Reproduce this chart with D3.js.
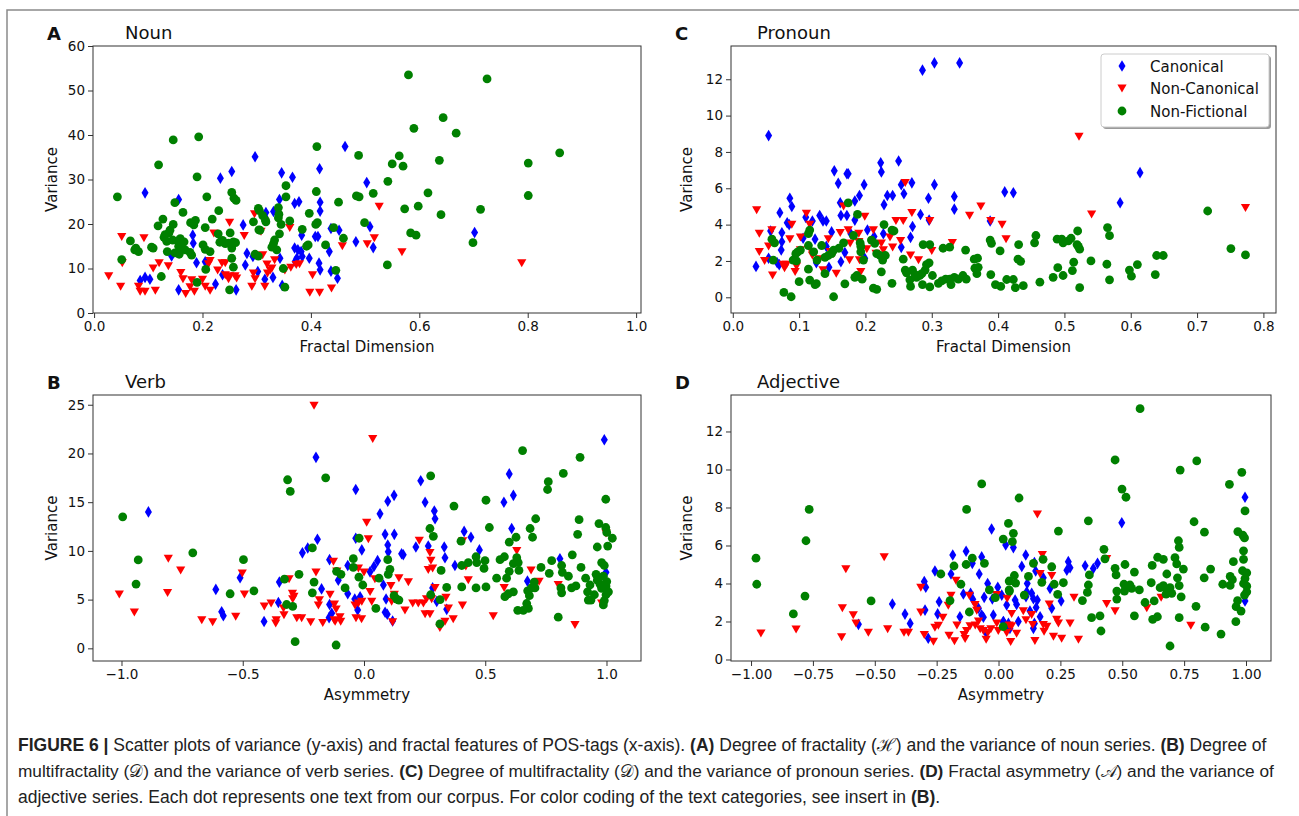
<!DOCTYPE html>
<html><head><meta charset="utf-8">
<script src="https://cdn.jsdelivr.net/npm/d3@7"></script>
<style>body{margin:0;background:#fff}</style>
</head><body><svg id="c" width="1299" height="816"></svg>
<script>
// ---------- DATA ----------
const categories = ["Canonical", "Non-Canonical", "Non-Fictional"];
const panelTitles = ["Noun", "Verb", "Pronoun", "Adjective"];
const panelLetters = ["A", "B", "C", "D"];
const xLabels = ["Fractal Dimension", "Asymmetry", "Fractal Dimension", "Asymmetry"];
const yLabel = "Variance";
const ticksXA = [0, 0.2, 0.4, 0.6, 0.8, 1.0];
const ticksYA = [0, 10, 20, 30, 40, 50, 60];
const ticksXB = [-1, -0.5, 0, 0.5, 1];
const ticksYB = [0, 5, 10, 15, 20, 25];
const ticksXC = [0, 0.1, 0.2, 0.3, 0.4, 0.5, 0.6, 0.7, 0.8];
const ticksYC = [0, 2, 4, 6, 8, 10, 12];
const ticksXD = [-1, -0.75, -0.5, -0.25, 0, 0.25, 0.5, 0.75, 1];
const ticksYD = [0, 2, 4, 6, 8, 10, 12];

const nounCanonical = [[0.094,27.0],[0.156,25.5],[0.233,30.3],[0.254,31.8],[0.297,35.1],[0.346,31.5],[0.366,30.5],[0.416,32.4],[0.463,37.4],[0.503,29.3],[0.275,19.8],[0.317,22.6],[0.331,22.8],[0.342,25.5],[0.370,24.6],[0.378,25.0],[0.417,24.9],[0.417,22.9],[0.408,17.2],[0.413,17.2],[0.383,17.5],[0.370,14.6],[0.376,14.2],[0.382,13.8],[0.374,12.3],[0.384,12.7],[0.371,11.6],[0.397,12.3],[0.415,11.2],[0.417,9.7],[0.434,13.8],[0.437,19.0],[0.452,18.6],[0.483,16.0],[0.509,19.4],[0.437,9.4],[0.449,7.8],[0.182,17.5],[0.183,15.7],[0.189,11.3],[0.143,12.8],[0.205,11.5],[0.085,7.3],[0.094,8.0],[0.103,7.6],[0.156,5.2],[0.224,6.5],[0.237,8.6],[0.262,5.2],[0.279,10.8],[0.282,13.4],[0.293,12.7],[0.302,9.3],[0.315,7.6],[0.330,8.0],[0.343,12.3],[0.347,6.2],[0.315,21.7],[0.515,14.7],[0.702,18.1]];
const nounNonCanonical = [[0.027,8.3],[0.049,5.9],[0.051,17.1],[0.052,11.2],[0.082,5.9],[0.085,4.8],[0.094,4.8],[0.113,5.0],[0.092,16.8],[0.109,10.0],[0.120,11.2],[0.137,10.5],[0.160,9.0],[0.164,7.6],[0.180,7.4],[0.177,5.8],[0.169,4.3],[0.185,4.8],[0.200,7.5],[0.205,5.9],[0.214,5.0],[0.221,17.9],[0.214,11.7],[0.211,11.0],[0.228,9.6],[0.236,11.2],[0.242,11.2],[0.242,8.5],[0.248,7.6],[0.250,8.3],[0.260,8.3],[0.263,7.8],[0.250,20.3],[0.277,17.3],[0.291,5.9],[0.297,7.6],[0.294,8.9],[0.296,22.2],[0.308,18.3],[0.311,13.0],[0.315,5.9],[0.320,8.9],[0.328,10.0],[0.325,9.6],[0.319,10.9],[0.333,11.9],[0.352,9.6],[0.363,10.2],[0.373,10.8],[0.379,11.0],[0.361,19.1],[0.398,4.6],[0.416,4.6],[0.403,8.5],[0.438,5.5],[0.458,15.0],[0.526,23.9],[0.517,16.8],[0.504,15.5],[0.568,13.7],[0.789,11.2]];
const nounNonFictional = [[0.043,26.1],[0.146,38.9],[0.193,39.6],[0.119,33.3],[0.190,30.6],[0.411,37.4],[0.488,35.4],[0.410,27.3],[0.451,24.9],[0.484,26.3],[0.489,26.1],[0.499,20.3],[0.149,24.8],[0.208,26.1],[0.254,27.1],[0.258,25.8],[0.262,25.3],[0.230,23.0],[0.164,22.6],[0.127,21.1],[0.118,19.6],[0.146,19.9],[0.140,18.6],[0.138,18.0],[0.178,20.3],[0.184,19.8],[0.187,20.8],[0.205,19.2],[0.218,21.1],[0.067,16.2],[0.077,14.6],[0.082,13.8],[0.075,14.2],[0.106,14.8],[0.109,14.6],[0.129,17.0],[0.134,16.1],[0.131,17.6],[0.145,16.4],[0.154,16.2],[0.159,16.7],[0.166,16.0],[0.156,15.0],[0.135,13.8],[0.149,13.5],[0.157,13.2],[0.168,14.2],[0.177,13.6],[0.180,13.0],[0.201,15.3],[0.205,14.3],[0.214,13.8],[0.229,17.8],[0.232,15.9],[0.237,16.3],[0.242,15.6],[0.248,15.7],[0.251,18.0],[0.257,16.0],[0.261,15.8],[0.254,14.6],[0.254,12.3],[0.206,9.8],[0.257,10.3],[0.051,12.0],[0.124,8.2],[0.190,6.9],[0.250,5.2],[0.294,20.5],[0.303,23.5],[0.305,23.0],[0.311,21.9],[0.317,20.5],[0.316,20.9],[0.306,18.6],[0.304,18.7],[0.340,23.7],[0.341,22.2],[0.340,21.4],[0.345,19.9],[0.342,17.8],[0.333,16.4],[0.331,15.6],[0.328,14.8],[0.337,14.2],[0.354,28.6],[0.354,26.1],[0.361,20.7],[0.349,10.0],[0.352,5.8],[0.384,18.8],[0.397,22.4],[0.409,19.9],[0.412,20.3],[0.392,15.0],[0.395,15.3],[0.427,15.3],[0.442,19.2],[0.460,16.8],[0.446,9.6],[0.297,13.2],[0.303,12.8],[0.580,53.5],[0.725,52.6],[0.644,43.9],[0.590,41.5],[0.668,40.4],[0.563,35.3],[0.550,33.5],[0.570,33.0],[0.637,34.3],[0.859,36.0],[0.801,33.7],[0.801,26.4],[0.542,29.6],[0.515,26.9],[0.616,27.0],[0.573,23.4],[0.598,24.0],[0.640,22.1],[0.713,23.3],[0.584,18.0],[0.594,17.5],[0.699,15.8],[0.541,10.8]];

const verbCanonical = [[-0.889,14.0],[-0.611,6.05],[-0.587,3.76],[-0.580,3.35],[-0.511,7.25],[-0.412,2.75],[-0.353,4.7],[-0.349,6.8],[-0.198,19.6],[-0.192,11.2],[-0.254,9.8],[-0.232,10.3],[-0.142,9.1],[-0.175,6.1],[-0.142,4.5],[-0.133,3.6],[-0.144,3.15],[-0.106,7.0],[-0.067,8.5],[-0.034,16.3],[-0.034,11.3],[-0.009,10.1],[-0.067,5.6],[-0.038,5.06],[-0.026,3.94],[-0.016,5.3],[0.234,17.2],[0.599,17.9],[0.616,15.7],[0.577,15.0],[0.991,21.4],[0.252,15.0],[0.290,14.1],[0.293,13.3],[0.124,15.7],[0.098,15.1],[0.066,13.8],[0.087,11.7],[0.125,11.7],[0.098,10.6],[0.100,9.9],[0.155,9.7],[0.162,9.6],[0.214,10.4],[0.265,10.5],[0.331,10.4],[0.334,9.3],[0.413,12.0],[0.441,11.4],[0.476,10.1],[0.609,12.3],[0.375,8.5],[0.056,9.0],[0.041,8.4],[0.025,7.85],[0.080,6.5],[0.091,5.06],[0.087,3.7],[0.096,3.5],[0.118,2.8],[0.283,6.2],[0.300,4.8],[0.341,4.0],[0.808,9.2],[0.674,6.9],[0.998,7.8]];
const verbNonCanonical = [[-1.009,5.54],[-0.947,3.7],[-0.807,9.2],[-0.756,8.0],[-0.810,5.7],[-0.669,2.9],[-0.624,2.7],[-0.529,3.24],[-0.502,7.7],[-0.493,5.54],[-0.411,4.3],[-0.383,4.6],[-0.364,2.55],[-0.362,2.9],[-0.332,4.1],[-0.330,3.4],[-0.309,7.1],[-0.295,5.6],[-0.289,5.3],[-0.294,5.06],[-0.277,3.1],[-0.257,3.1],[-0.220,2.7],[-0.170,2.6],[-0.206,24.9],[-0.198,7.8],[-0.184,4.95],[-0.188,4.4],[-0.140,5.5],[-0.126,8.9],[-0.122,4.5],[-0.115,4.0],[-0.123,2.9],[-0.119,2.75],[-0.112,7.9],[-0.099,3.2],[-0.096,2.75],[-0.037,4.4],[-0.023,4.6],[-0.009,4.8],[-0.033,3.1],[-0.010,3.0],[-0.023,8.2],[0.036,21.5],[0.011,12.9],[0.018,11.2],[0.000,7.8],[0.045,7.1],[0.025,5.8],[0.032,4.8],[0.111,6.4],[0.125,5.5],[0.114,4.8],[0.118,2.7],[0.144,7.2],[0.183,6.8],[0.169,3.9],[0.201,4.6],[0.224,4.6],[0.245,4.6],[0.228,11.05],[0.252,3.5],[0.272,3.5],[0.272,9.8],[0.276,9.0],[0.265,8.05],[0.283,8.2],[0.293,6.2],[0.258,5.06],[0.279,5.06],[0.338,5.2],[0.348,4.1],[0.334,2.75],[0.313,2.1],[0.368,3.0],[0.406,4.4],[0.430,7.0],[0.407,11.0],[0.420,8.4],[0.533,3.3],[0.578,6.2],[0.630,10.0],[0.689,8.0],[0.722,6.85],[0.801,6.5],[0.870,2.4],[0.980,4.6],[0.998,11.8]];
const verbNonFictional = [[-0.995,13.5],[-0.931,9.07],[-0.940,6.6],[-0.706,9.8],[-0.497,9.1],[-0.552,5.6],[-0.454,5.9],[-0.315,17.3],[-0.304,16.1],[-0.158,17.5],[-0.284,0.68],[-0.115,0.34],[-0.328,7.1],[-0.268,7.6],[-0.319,4.5],[-0.294,4.3],[-0.213,10.3],[-0.206,6.8],[-0.213,5.7],[-0.113,7.9],[-0.095,7.6],[-0.078,6.2],[-0.044,9.2],[-0.044,8.3],[-0.020,11.3],[-0.021,7.3],[-0.005,6.5],[0.275,17.7],[0.371,14.6],[0.654,20.3],[0.891,19.6],[0.822,17.95],[0.760,17.1],[0.757,16.3],[0.503,15.2],[0.997,15.3],[0.517,12.4],[0.708,13.3],[0.685,12.3],[0.695,11.4],[0.887,13.2],[0.881,11.7],[0.969,12.8],[0.997,12.4],[1.001,11.9],[1.024,11.3],[1.005,10.5],[0.272,12.3],[0.286,11.5],[0.400,11.0],[0.599,10.9],[0.627,11.4],[0.962,10.4],[0.098,9.1],[0.107,8.1],[0.100,7.6],[0.062,7.2],[0.124,5.4],[0.135,5.06],[0.144,4.95],[0.049,4.1],[0.275,5.5],[0.318,8.0],[0.314,5.0],[0.341,6.25],[0.313,2.5],[0.403,8.5],[0.430,8.8],[0.403,6.3],[0.462,9.4],[0.465,8.8],[0.499,9.0],[0.462,6.2],[0.495,8.2],[0.503,6.3],[0.547,7.2],[0.561,9.1],[0.579,9.4],[0.588,7.2],[0.599,7.9],[0.581,5.3],[0.595,5.6],[0.616,5.8],[0.630,9.3],[0.636,8.8],[0.616,8.7],[0.639,8.0],[0.634,3.9],[0.657,3.9],[0.671,4.6],[0.682,5.4],[0.678,4.1],[0.691,6.2],[0.702,6.8],[0.705,6.2],[0.675,5.9],[0.730,8.3],[0.764,7.7],[0.774,9.0],[0.815,8.5],[0.818,7.8],[0.843,7.4],[0.859,9.6],[0.895,8.3],[0.856,6.2],[0.874,6.4],[0.812,6.2],[0.815,5.7],[0.801,3.2],[0.914,7.2],[0.932,6.5],[0.922,5.8],[0.950,5.5],[0.973,6.6],[0.980,6.15],[0.991,4.9],[0.936,4.95],[0.925,4.95],[0.980,8.8],[0.991,8.5],[0.987,7.4],[1.001,6.85],[0.998,6.4],[1.008,5.8],[0.998,5.5],[0.987,4.45],[0.957,7.6],[0.962,7.0]];

const pronounCanonical = [[0.286,12.5],[0.304,12.9],[0.342,12.9],[0.054,8.9],[0.153,6.96],[0.172,6.8],[0.174,6.8],[0.159,6.27],[0.223,7.4],[0.224,6.9],[0.250,7.5],[0.198,6.2],[0.254,6.2],[0.270,6.3],[0.304,6.2],[0.233,5.6],[0.241,5.6],[0.228,5.1],[0.258,5.7],[0.191,5.6],[0.184,5.3],[0.162,5.2],[0.163,4.5],[0.172,4.5],[0.184,4.25],[0.086,5.45],[0.089,5.0],[0.071,4.66],[0.082,4.1],[0.085,4.0],[0.110,4.4],[0.120,4.2],[0.131,4.5],[0.136,4.2],[0.141,4.2],[0.057,3.65],[0.074,3.55],[0.074,3.06],[0.073,2.6],[0.106,3.25],[0.124,3.2],[0.149,3.6],[0.141,2.8],[0.054,2.15],[0.067,1.9],[0.035,1.7],[0.070,1.8],[0.126,1.9],[0.145,1.65],[0.163,1.96],[0.169,2.46],[0.199,2.15],[0.203,3.7],[0.178,3.5],[0.227,3.5],[0.213,3.35],[0.268,3.3],[0.271,3.9],[0.283,4.56],[0.295,5.45],[0.296,4.25],[0.334,5.55],[0.334,4.85],[0.254,2.75],[0.388,4.2],[0.410,5.8],[0.423,5.75],[0.584,5.2],[0.614,6.86]];
const pronounNonCanonical = [[0.036,4.8],[0.040,3.5],[0.040,2.5],[0.048,2.0],[0.060,1.2],[0.054,2.8],[0.059,3.7],[0.076,1.8],[0.081,1.8],[0.078,1.6],[0.094,1.4],[0.096,1.7],[0.089,4.0],[0.086,3.2],[0.102,3.3],[0.102,2.6],[0.111,4.6],[0.116,4.0],[0.119,2.5],[0.120,2.3],[0.131,2.1],[0.136,1.5],[0.144,3.2],[0.156,1.3],[0.152,2.4],[0.147,2.5],[0.162,3.55],[0.167,5.0],[0.174,3.7],[0.177,2.96],[0.176,2.05],[0.190,3.5],[0.190,3.05],[0.191,2.05],[0.199,4.44],[0.202,2.65],[0.193,1.4],[0.212,3.7],[0.216,2.4],[0.224,2.97],[0.227,2.6],[0.237,3.3],[0.241,2.75],[0.246,4.2],[0.257,4.2],[0.260,6.3],[0.253,3.1],[0.270,4.65],[0.268,2.3],[0.280,2.05],[0.297,4.2],[0.300,2.56],[0.331,3.0],[0.357,4.5],[0.374,5.0],[0.389,4.2],[0.406,4.0],[0.412,3.2],[0.522,8.84],[0.541,4.56],[0.773,4.92]];
const pronounNonFictional = [[0.174,5.2],[0.188,4.56],[0.228,4.0],[0.240,3.7],[0.243,3.65],[0.116,3.7],[0.114,3.5],[0.059,3.2],[0.063,3.0],[0.061,2.05],[0.098,2.5],[0.102,2.6],[0.095,2.4],[0.091,2.05],[0.096,2.0],[0.114,2.85],[0.122,2.5],[0.134,2.85],[0.127,2.05],[0.139,2.2],[0.144,2.3],[0.149,2.4],[0.152,2.6],[0.160,2.7],[0.167,3.0],[0.139,1.3],[0.114,1.55],[0.116,0.94],[0.124,0.7],[0.126,0.75],[0.100,0.86],[0.077,0.27],[0.088,0.03],[0.152,0.03],[0.169,0.74],[0.182,3.4],[0.192,3.0],[0.193,2.8],[0.193,2.5],[0.184,1.1],[0.187,1.2],[0.195,1.0],[0.197,2.05],[0.209,3.15],[0.214,2.97],[0.217,2.4],[0.222,2.3],[0.226,2.05],[0.230,2.3],[0.224,1.4],[0.212,0.5],[0.217,0.44],[0.240,0.77],[0.257,2.1],[0.260,1.5],[0.262,1.35],[0.271,1.5],[0.275,1.25],[0.277,1.1],[0.282,1.2],[0.285,1.3],[0.290,1.5],[0.292,1.8],[0.296,1.9],[0.287,2.9],[0.297,2.9],[0.267,0.96],[0.268,0.6],[0.286,0.7],[0.297,0.57],[0.301,1.2],[0.310,0.77],[0.315,0.9],[0.321,1.0],[0.327,1.0],[0.329,0.7],[0.334,1.1],[0.340,1.0],[0.317,2.7],[0.327,2.76],[0.351,2.6],[0.347,1.2],[0.352,1.0],[0.364,2.1],[0.369,2.15],[0.365,1.6],[0.370,1.65],[0.368,1.3],[0.389,1.25],[0.388,3.15],[0.390,2.97],[0.403,2.55],[0.396,0.7],[0.404,0.6],[0.413,0.98],[0.716,4.75],[0.751,2.68],[0.773,2.33],[0.639,2.3],[0.649,2.3],[0.637,1.25],[0.610,1.8],[0.598,1.5],[0.601,1.16],[0.565,3.84],[0.568,3.39],[0.564,1.82],[0.568,0.96],[0.540,2.0],[0.520,3.65],[0.519,2.9],[0.523,2.65],[0.521,2.8],[0.510,3.25],[0.506,3.1],[0.498,3.0],[0.489,3.2],[0.496,3.2],[0.514,1.93],[0.512,1.47],[0.490,1.63],[0.498,1.2],[0.523,0.53],[0.483,1.1],[0.457,3.4],[0.455,3.0],[0.431,2.9],[0.430,2.1],[0.434,1.98],[0.463,0.83],[0.438,0.64],[0.426,0.53],[0.423,0.98]];

const adjCanonical = [[-0.028,6.87],[-0.131,5.7],[-0.068,5.4],[-0.185,5.5],[-0.106,5.06],[-0.078,4.5],[-0.257,4.66],[-0.192,4.5],[-0.300,4.1],[-0.294,3.8],[-0.044,4.0],[-0.003,3.8],[-0.058,3.27],[-0.025,3.18],[-0.142,3.45],[-0.113,3.48],[-0.104,3.17],[-0.081,2.7],[-0.068,2.34],[-0.061,2.22],[-0.240,3.04],[-0.297,2.6],[-0.357,1.9],[-0.378,2.39],[-0.429,2.92],[-0.566,1.85],[-0.246,2.4],[-0.156,2.25],[-0.021,2.34],[-0.284,1.12],[-0.051,1.43],[0.019,1.99],[0.996,8.54],[0.498,7.2],[0.996,3.08],[0.029,6.03],[0.060,5.89],[0.110,5.5],[0.094,4.9],[0.145,5.1],[0.150,4.66],[0.181,4.3],[0.208,3.74],[0.282,5.15],[0.289,4.83],[0.276,4.7],[0.350,4.93],[0.383,4.79],[0.400,5.06],[0.253,3.08],[0.215,2.7],[0.116,4.0],[0.134,3.48],[0.114,3.56],[0.141,3.2],[0.157,3.13],[0.152,2.74],[0.168,2.25],[0.013,3.39],[0.033,2.87],[0.067,3.13],[0.073,2.9],[0.111,3.3],[0.127,2.55],[0.020,2.0],[0.040,1.9],[0.046,1.64],[0.080,2.0],[0.141,1.64],[0.145,1.9]];
const adjNonCanonical = [[-0.960,1.38],[-0.818,1.59],[-0.634,1.17],[-0.617,4.76],[-0.462,5.38],[-0.631,2.7],[-0.587,2.34],[-0.576,1.9],[-0.526,1.41],[-0.448,1.6],[-0.382,1.41],[-0.364,1.41],[-0.314,3.78],[-0.314,2.48],[-0.300,1.29],[-0.263,0.94],[-0.257,1.67],[-0.243,1.78],[-0.225,2.2],[-0.203,2.83],[-0.192,3.36],[-0.172,4.15],[-0.200,1.25],[-0.178,0.97],[-0.135,1.08],[-0.139,1.29],[-0.129,1.5],[-0.168,1.8],[-0.115,1.76],[-0.094,1.8],[-0.074,1.6],[-0.081,2.0],[-0.061,1.5],[-0.043,1.4],[-0.050,1.05],[-0.031,1.6],[-0.007,1.9],[-0.001,1.5],[0.033,1.4],[0.043,1.8],[-0.118,3.36],[-0.095,2.87],[-0.088,2.57],[-0.008,3.4],[0.035,3.2],[0.157,7.64],[0.177,5.5],[0.168,4.5],[0.215,4.4],[0.437,5.3],[0.305,3.26],[0.437,2.92],[0.471,2.55],[0.599,2.7],[0.657,3.26],[0.777,1.78],[0.053,2.4],[0.053,1.75],[0.073,1.36],[0.049,0.92],[0.100,2.55],[0.111,2.07],[0.134,2.35],[0.138,1.82],[0.147,0.98],[0.181,1.82],[0.184,1.47],[0.195,1.73],[0.205,2.9],[0.222,1.2],[0.235,2.1],[0.242,1.9],[0.255,1.1],[0.289,1.9],[0.323,1.05]];
const adjNonFictional = [[-0.980,5.33],[-0.977,3.96],[-0.765,7.9],[-0.778,6.25],[-0.782,3.34],[-0.829,2.4],[-0.515,3.08],[-0.068,9.24],[-0.129,7.9],[-0.233,4.5],[-0.180,4.92],[-0.152,3.96],[-0.196,3.1],[-0.106,5.33],[-0.131,5.0],[-0.057,5.06],[-0.037,3.66],[-0.013,3.26],[-0.118,2.5],[0.019,1.73],[0.040,7.16],[0.019,6.34],[0.043,4.13],[0.043,3.66],[0.572,13.2],[0.471,10.5],[0.801,10.45],[0.734,9.97],[0.983,9.85],[0.933,9.22],[0.499,8.97],[0.515,8.54],[0.083,8.5],[0.996,7.82],[0.363,7.3],[0.790,7.25],[0.832,6.7],[0.967,6.73],[0.987,6.55],[0.994,6.4],[0.242,6.76],[0.060,6.64],[0.056,6.2],[0.727,6.25],[0.730,5.9],[0.426,5.8],[0.430,5.3],[0.990,5.72],[0.990,5.27],[0.643,5.38],[0.666,5.27],[0.713,5.36],[0.720,5.03],[0.747,4.76],[0.857,4.76],[0.949,5.15],[0.471,4.8],[0.475,4.45],[0.511,5.0],[0.549,4.6],[0.621,4.95],[0.680,4.5],[0.723,4.3],[0.831,4.3],[0.906,3.96],[0.936,4.37],[0.945,4.2],[0.936,3.9],[0.986,4.67],[1.003,4.56],[0.996,4.26],[0.990,4.0],[1.003,3.86],[1.003,3.56],[0.994,3.39],[0.367,4.45],[0.363,3.92],[0.359,3.53],[0.507,3.96],[0.515,3.78],[0.531,3.92],[0.538,3.74],[0.509,3.6],[0.569,3.66],[0.617,4.04],[0.653,3.78],[0.666,3.89],[0.680,3.69],[0.693,3.78],[0.700,3.48],[0.677,3.44],[0.730,3.89],[0.738,3.3],[0.478,3.6],[0.478,3.18],[0.592,3.0],[0.629,3.08],[0.798,2.8],[0.966,3.1],[0.960,2.78],[0.980,2.55],[0.549,2.3],[0.623,2.11],[0.642,2.25],[0.730,2.2],[0.410,2.3],[0.376,2.2],[0.414,1.5],[0.835,1.7],[0.899,1.34],[0.959,1.99],[0.693,0.71],[0.339,3.1],[0.262,4.04],[0.239,3.43],[0.225,3.96],[0.215,4.88],[0.180,5.27],[0.175,4.06],[0.141,5.06],[0.121,4.37],[0.064,4.42],[0.069,4.02],[0.044,3.6],[0.104,3.39]];

// ---------- DRAWING ----------
const svg = d3.select("#c");
const FONT = "'DejaVu Sans', sans-serif";
const colors = ["#0000ff", "#ff0000", "#008000"];
const shapeDiamond = "M0,-5.8L3.5,0L0,5.8L-3.5,0Z";
const shapeTri = "M-4.6,-3.9L4.6,-3.9L0,4.1Z";
const shapeCircle = d3.symbol(d3.symbolCircle, Math.PI * 4.4 * 4.4)();
const shapes = [shapeDiamond, shapeTri, shapeCircle];

// figure frame
svg.append("path").attr("d", "M7,816V10H1299").attr("fill", "none")
  .attr("stroke", "#8a8a8a").attr("stroke-width", 1.5);

const minusFmt = f => (v => d3.format(f)(v));

function panel(p) {
  const x = d3.scaleLinear().domain(p.xDom).range([p.left, p.right]);
  const y = d3.scaleLinear().domain(p.yDom).range([p.bottom, p.top]);
  const g = svg.append("g");
  const xa = g.append("g").attr("transform", `translate(0,${p.bottom})`)
    .call(d3.axisBottom(x).tickValues(p.xTicks).tickFormat(minusFmt(p.xFmt)).tickSize(5).tickPadding(3));
  const ya = g.append("g").attr("transform", `translate(${p.left},0)`)
    .call(d3.axisLeft(y).tickValues(p.yTicks).tickFormat(d3.format("d")).tickSize(5).tickPadding(3));
  [xa, ya].forEach(a => {
    a.select(".domain").remove();
    a.selectAll("line").attr("stroke", "#333");
    a.selectAll("text").attr("font-family", FONT).attr("font-size", 13.5).attr("fill", "#111");
  });
  p.series.forEach((s, i) => {
    g.append("g").selectAll("path").data(s).join("path")
      .attr("d", shapes[i]).attr("fill", colors[i])
      .attr("transform", d => `translate(${x(d[0])},${y(d[1])})`);
  });
  g.append("rect").attr("x", p.left).attr("y", p.top)
    .attr("width", p.right - p.left).attr("height", p.bottom - p.top)
    .attr("fill", "none").attr("stroke", "#333").attr("stroke-width", 1);
  g.append("text").attr("x", p.letterX).attr("y", p.top - 6).text(p.letter)
    .attr("font-family", FONT).attr("font-weight", "bold").attr("font-size", 18).attr("fill", "#111");
  g.append("text").attr("x", p.titleX).attr("y", p.top - 7).text(p.title)
    .attr("font-family", FONT).attr("font-size", 18).attr("fill", "#111");
  g.append("text").attr("x", (p.left + p.right) / 2).attr("y", p.bottom + 39)
    .attr("text-anchor", "middle").text(p.xLabel)
    .attr("font-family", FONT).attr("font-size", 15).attr("fill", "#111");
  g.append("text").attr("transform", `translate(${p.yLabelX},${(p.top + p.bottom) / 2}) rotate(-90)`)
    .attr("text-anchor", "middle").text(yLabel)
    .attr("font-family", FONT).attr("font-size", 15).attr("fill", "#111");
  return { x, y, g };
}

panel({ left: 93, right: 641, top: 46, bottom: 313, xDom: [-0.002, 1.009], yDom: [0, 60],
  xTicks: ticksXA, yTicks: ticksYA, xFmt: ".1f", letter: panelLetters[0], letterX: 47,
  title: panelTitles[0], titleX: 125, xLabel: xLabels[0], yLabelX: 57,
  series: [nounCanonical, nounNonCanonical, nounNonFictional] });
panel({ left: 93, right: 641, top: 395, bottom: 661, xDom: [-1.1175, 1.1423], yDom: [-1.3, 26.0],
  xTicks: ticksXB, yTicks: ticksYB, xFmt: ".1f", letter: panelLetters[1], letterX: 47,
  title: panelTitles[1], titleX: 125, xLabel: xLabels[1], yLabelX: 57,
  series: [verbCanonical, verbNonCanonical, verbNonFictional] });
panel({ left: 731, right: 1276, top: 46, bottom: 313, xDom: [-0.0027, 0.819], yDom: [-0.864, 13.83],
  xTicks: ticksXC, yTicks: ticksYC, xFmt: ".1f", letter: panelLetters[2], letterX: 675,
  title: panelTitles[2], titleX: 757, xLabel: xLabels[2], yLabelX: 692,
  series: [pronounCanonical, pronounNonCanonical, pronounNonFictional] });
panel({ left: 731, right: 1271, top: 395, bottom: 661, xDom: [-1.081, 1.101], yDom: [-0.079, 13.92],
  xTicks: ticksXD, yTicks: ticksYD, xFmt: ".2f", letter: panelLetters[3], letterX: 675,
  title: panelTitles[3], titleX: 757, xLabel: xLabels[3], yLabelX: 692,
  series: [adjCanonical, adjNonCanonical, adjNonFictional] });

// legend (in panel C)
const lg = svg.append("g");
lg.append("rect").attr("x", 1103).attr("y", 56).attr("width", 168).attr("height", 73)
  .attr("rx", 3).attr("fill", "#9a9a9a");
lg.append("rect").attr("x", 1101).attr("y", 54).attr("width", 168).attr("height", 73)
  .attr("rx", 3).attr("fill", "#fff").attr("stroke", "#cccccc");
categories.forEach((c, i) => {
  const yy = 66 + i * 22.5;
  lg.append("path").attr("d", shapes[i]).attr("fill", colors[i]).attr("transform", `translate(1122,${yy})`);
  lg.append("text").attr("x", 1150).attr("y", yy + 5.5).text(c)
    .attr("font-family", FONT).attr("font-size", 15).attr("fill", "#111");
});

// caption
const capLines = [
  [["FIGURE 6 | ", 1], ["Scatter plots of variance (y-axis) and fractal features of POS-tags (x-axis). ", 0], ["(A)", 1], [" Degree of fractality (\u210B) and the variance of noun series. ", 0], ["(B)", 1], [" Degree of", 0]],
  [["multifractality (\uD835\uDC9F) and the variance of verb series. ", 0], ["(C)", 1], [" Degree of multifractality (\uD835\uDC9F) and the variance of pronoun series. ", 0], ["(D)", 1], [" Fractal asymmetry (\uD835\uDC9C) and the variance of", 0]],
  [["adjective series. Each dot represents one text from our corpus. For color coding of the text categories, see insert in ", 0], ["(B)", 1], [".", 0]]
];
const capSizes = [17.5, 17.25, 17.5];
capLines.forEach((line, i) => {
  const t = svg.append("text").attr("x", 18).attr("y", 751 + i * 26)
    .attr("font-family", "'Liberation Sans Narrow', 'Arial Narrow', sans-serif")
    .attr("font-size", capSizes[i]).attr("fill", "#222");
  line.forEach(([s, b]) => t.append("tspan").text(s).attr("font-weight", b ? "bold" : "normal"));
});
</script>
</body></html>
